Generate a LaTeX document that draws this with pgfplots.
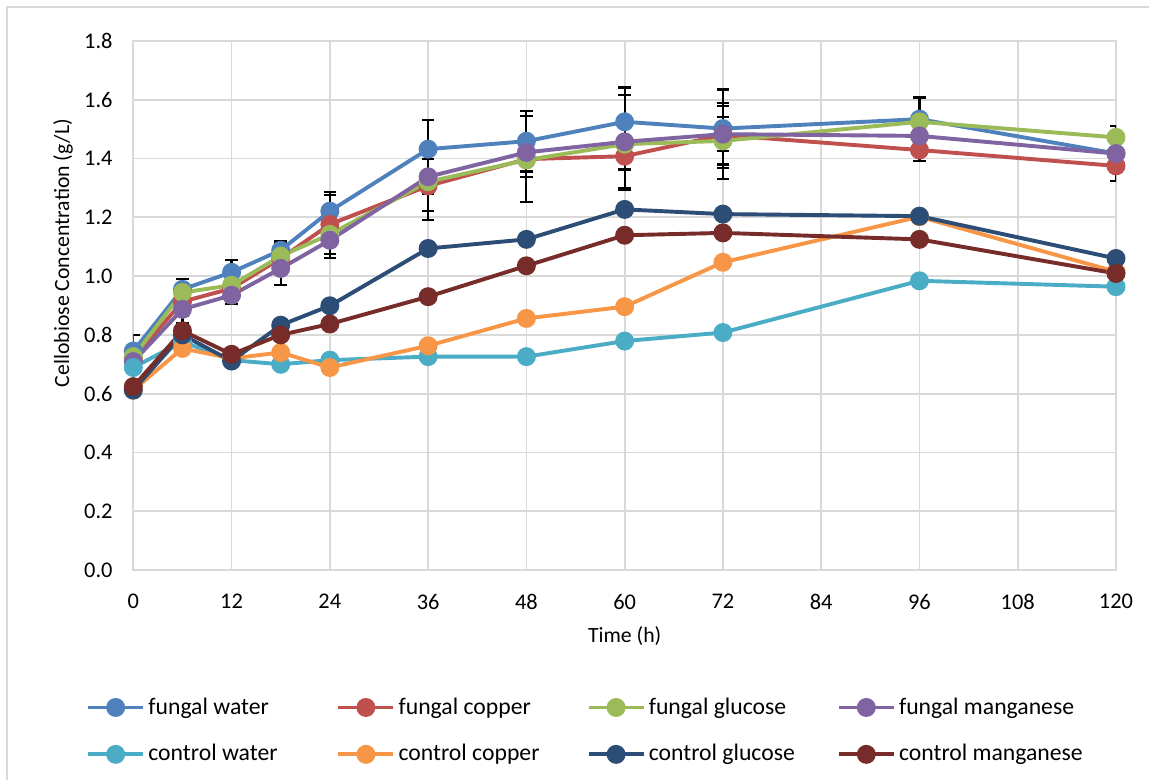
\documentclass[border=0pt]{standalone}
\usepackage{fontspec}
\setmainfont{Carlito}
\usepackage{pgfplots}
\pgfplotsset{compat=1.18}
\usepackage{pgfplotstable}

\definecolor{fw}{HTML}{4F81BD}
\definecolor{fc}{HTML}{C0504D}
\definecolor{fg}{HTML}{9BBB59}
\definecolor{fm}{HTML}{8064A2}
\definecolor{cw}{HTML}{4BACC6}
\definecolor{cc}{HTML}{F79646}
\definecolor{cg}{HTML}{2C4D75}
\definecolor{cm}{HTML}{772C2A}
\definecolor{gridgray}{HTML}{D9D9D9}

\pgfplotstableread{
t y e
0 0.745 0.055
6 0.955 0.036
12 1.013 0.042
18 1.088 0.030
24 1.221 0.066
36 1.432 0.099
48 1.459 0.103
60 1.525 0.117
72 1.502 0.133
96 1.534 0.074
120 1.417 0.010
}\fwater
\pgfplotstableread{
t y e
0 0.720 0.040
6 0.913 0.050
12 0.958 0.030
18 1.060 0.030
24 1.176 0.100
36 1.307 0.117
48 1.398 0.147
60 1.408 0.115
72 1.480 0.100
96 1.429 0.038
120 1.375 0.052
}\fcopper
\pgfplotstableread{
t y e
0 0.726 0.030
6 0.944 0.030
12 0.969 0.030
18 1.068 0.041
24 1.142 0.030
36 1.321 0.100
48 1.395 0.059
60 1.449 0.086
72 1.460 0.130
96 1.525 0.020
120 1.472 0.038
}\fglucose
\pgfplotstableread{
t y e
0 0.709 0.030
6 0.887 0.048
12 0.935 0.030
18 1.026 0.056
24 1.122 0.060
36 1.338 0.060
48 1.421 0.045
60 1.457 0.159
72 1.483 0.057
96 1.477 0.020
120 1.417 0.020
}\fmanganese
\pgfplotstableread{
t y
0 0.689
6 0.777
12 0.714
18 0.700
24 0.714
36 0.726
48 0.726
60 0.779
72 0.808
96 0.984
120 0.964
}\cwater
\pgfplotstableread{
t y
0 0.612
6 0.754
12 0.720
18 0.740
24 0.689
36 0.763
48 0.856
60 0.896
72 1.047
96 1.202
120 1.015
}\ccopper
\pgfplotstableread{
t y
0 0.612
6 0.800
12 0.711
18 0.833
24 0.899
36 1.094
48 1.125
60 1.227
72 1.211
96 1.204
120 1.060
}\cglucose
\pgfplotstableread{
t y
0 0.624
6 0.814
12 0.734
18 0.800
24 0.837
36 0.930
48 1.035
60 1.139
72 1.147
96 1.125
120 1.009
}\cmanganese

\begin{document}
\begin{tikzpicture}
\path[use as bounding box] (0,0) rectangle (528.54pt,358.8pt);
\draw[gridgray, line width=0.8pt] (3.22pt,0) -- (3.22pt,355.58pt) -- (528.54pt,355.58pt);
\begin{axis}[
  at={(61.32pt,96.6pt)}, anchor=south west,
  scale only axis, width=452.04pt, height=243.34pt,
  xmin=0, xmax=120, ymin=0, ymax=1.8,
  xtick={0,12,...,120},
  ytick={0,0.2,...,1.8},
  grid=major,
  major grid style={gridgray, line width=0.8pt},
  axis line style={gridgray, line width=0.8pt},
  major tick length=0pt,
  /pgf/number format/assume math mode=true,
  ticklabel style={font=\fontsize{10.3}{12}\selectfont},
  xticklabel style={yshift=-7.5pt},
  yticklabel style={xshift=-6pt, /pgf/number format/.cd, fixed, fixed zerofill, precision=1},
  xlabel={Time (h)},
  ylabel={Cellobiose Concentration (g/L)},
  xlabel style={at={(axis description cs:0.5,-0.125)}, anchor=center},
  ylabel style={at={(axis description cs:-0.0715,0.599)}, anchor=center},
  legend columns=4,
  legend style={at={(axis description cs:-0.055,-0.224)}, anchor=north west,
    draw=none, fill=none, row sep=8.5pt, font=\fontsize{10.9}{13}\selectfont,
    nodes={inner xsep=1.5pt},
    /tikz/every even column/.append style={column sep=0pt}},
  legend cell align=left,
  legend image code/.code={\draw[mark repeat=2,mark phase=2,#1] plot coordinates {(0pt,0pt) (12.65pt,0pt) (25.3pt,0pt)};},
  every axis plot/.append style={line width=1.8pt, mark=*, mark size=3.45pt, mark options={solid}},
  error bars/error bar style={black, line width=1pt},
  error bars/error mark options={black, rotate=90, mark size=2.9pt, line width=1pt},
]
\addplot[color=fw, mark options={fill=fw}, error bars/.cd, y dir=both, y explicit] table[x=t, y=y, y error=e] {\fwater};
\addlegendentry{\makebox[85pt][l]{fungal water}}
\addplot[color=fc, mark options={fill=fc}, error bars/.cd, y dir=both, y explicit] table[x=t, y=y, y error=e] {\fcopper};
\addlegendentry{\makebox[85pt][l]{fungal copper}}
\addplot[color=fg, mark options={fill=fg}, error bars/.cd, y dir=both, y explicit] table[x=t, y=y, y error=e] {\fglucose};
\addlegendentry{\makebox[85pt][l]{fungal glucose}}
\addplot[color=fm, mark options={fill=fm}, error bars/.cd, y dir=both, y explicit] table[x=t, y=y, y error=e] {\fmanganese};
\addlegendentry{\makebox[85pt][l]{fungal manganese}}
\addplot[color=cw, mark options={fill=cw}] table[x=t, y=y] {\cwater};
\addlegendentry{\makebox[85pt][l]{control water}}
\addplot[color=cc, mark options={fill=cc}] table[x=t, y=y] {\ccopper};
\addlegendentry{\makebox[85pt][l]{control copper}}
\addplot[color=cg, mark options={fill=cg}] table[x=t, y=y] {\cglucose};
\addlegendentry{\makebox[85pt][l]{control glucose}}
\addplot[color=cm, mark options={fill=cm}] table[x=t, y=y] {\cmanganese};
\addlegendentry{\makebox[85pt][l]{control manganese}}
\end{axis}
\end{tikzpicture}
\end{document}
